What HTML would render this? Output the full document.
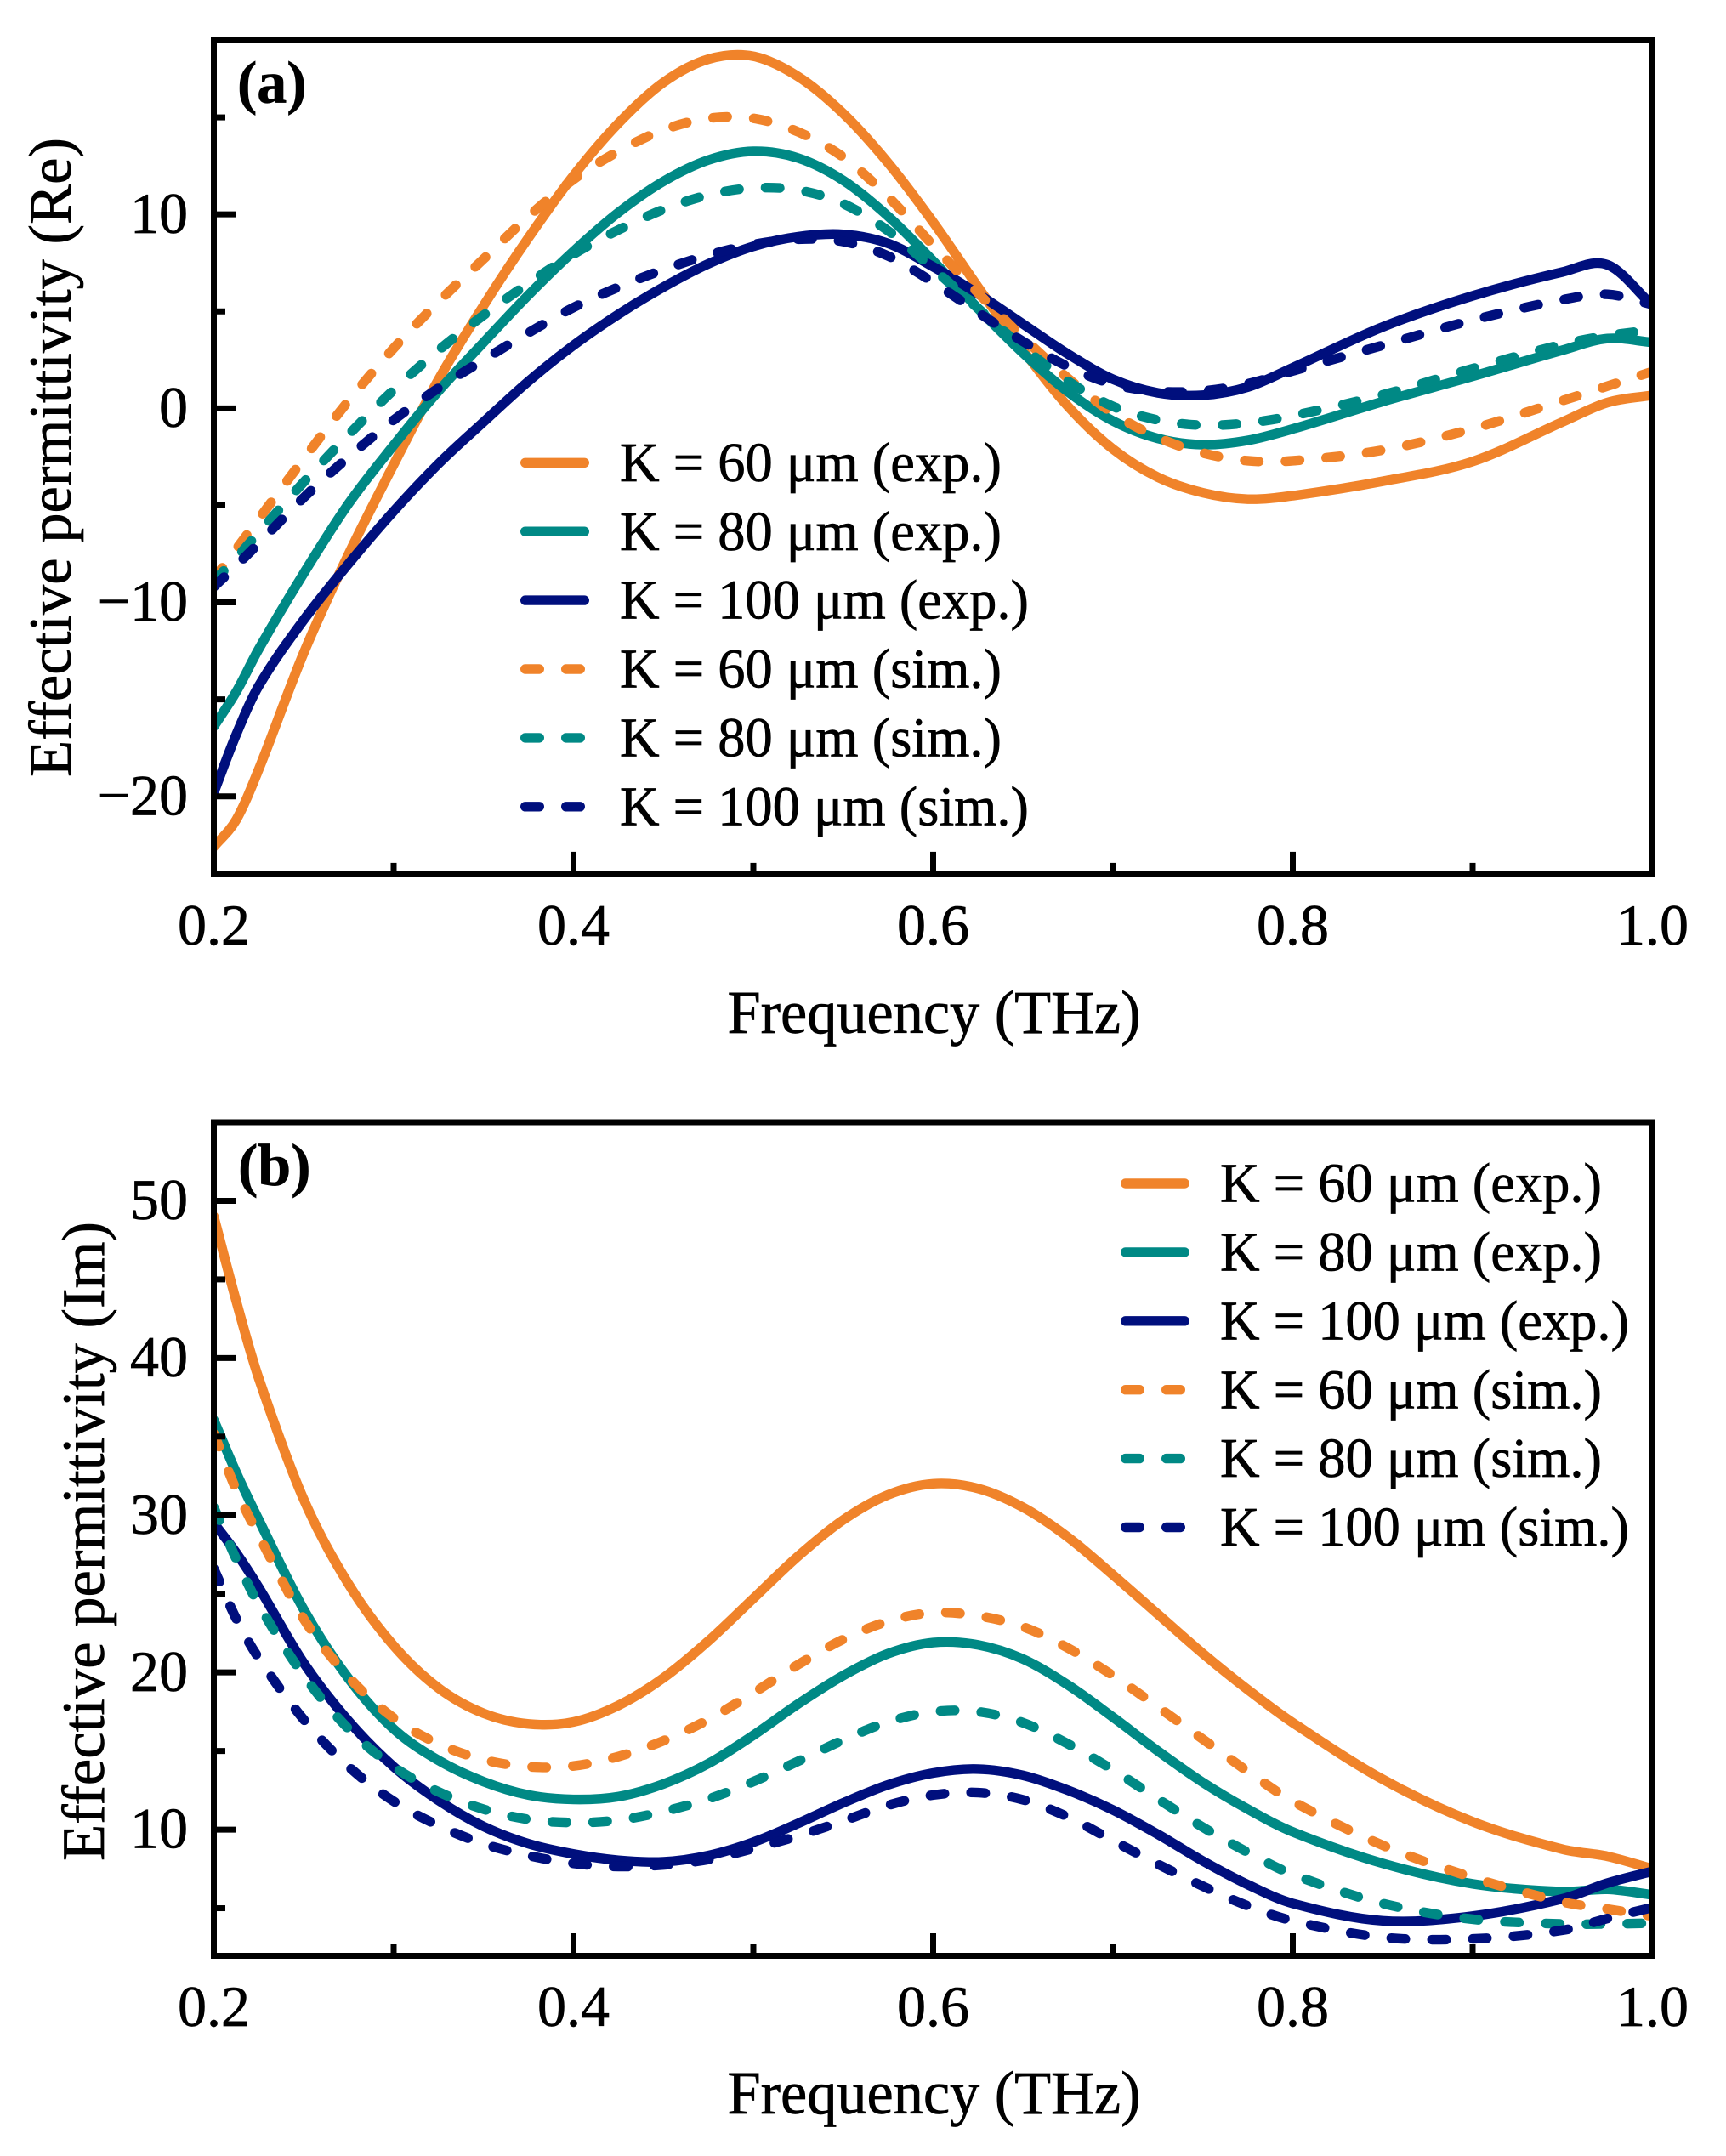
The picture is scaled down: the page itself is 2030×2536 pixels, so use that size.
<!DOCTYPE html>
<html lang="en">
<head>
<meta charset="utf-8">
<title>Effective permittivity vs frequency</title>
<style>
html,body{margin:0;padding:0;background:#fff;}
svg{display:block;}
text{font-family:"Liberation Serif","Times New Roman",serif;fill:#000;stroke:#000;stroke-width:0.7px;}
</style>
</head>
<body>
<svg id="figure" xmlns="http://www.w3.org/2000/svg" width="2030" height="2536" viewBox="0 0 2030 2536">
<rect x="0" y="0" width="2030" height="2536" fill="#ffffff"/>
<defs>
<clipPath id="clip-a"><rect x="251.5" y="47" width="1692" height="981.4"/></clipPath>
<clipPath id="clip-b"><rect x="251.5" y="1320" width="1692" height="980.5"/></clipPath>
</defs>
</svg>
<script>
const frequency = [0.2,0.2125,0.225,0.25,0.275,0.3,0.325,0.35,0.375,0.4,0.425,0.45,0.475,0.5,0.525,0.55,0.575,0.6,0.625,0.65,0.675,0.7,0.725,0.75,0.775,0.8,0.85,0.9,0.95,0.975,1.0];

const reExp60 = [-22.6,-21.2,-18.6,-12.6,-7.5,-2.9,1.5,5.3,8.8,12.0,14.7,16.8,18.0,18.15,17.1,15.2,12.65,9.6,6.25,3.0,0.1,-2.1,-3.55,-4.35,-4.68,-4.5,-3.76,-2.74,-0.7,0.3,0.68];
const reExp80 = [-16.4,-14.6,-12.4,-8.5,-4.9,-1.9,0.9,3.4,5.85,8.1,10.1,11.7,12.8,13.25,12.9,11.75,9.9,7.6,5.15,2.85,0.85,-0.65,-1.55,-1.87,-1.65,-1.06,0.35,1.65,3.0,3.6,3.4];
const reExp100 = [-19.8,-16.8,-14.3,-10.9,-8.0,-5.3,-2.85,-0.7,1.4,3.25,4.85,6.25,7.45,8.35,8.85,8.97,8.5,7.3,5.9,4.35,2.8,1.5,0.8,0.68,1.1,2.1,4.2,5.8,7.03,7.4,5.3];
const reSim60 = [-8.8,-7.25,-5.7,-2.6,0.4,3.1,5.5,7.7,9.9,11.8,13.25,14.35,14.95,14.95,14.25,12.95,10.9,8.4,5.95,3.65,1.55,-0.25,-1.5,-2.3,-2.7,-2.7,-2.15,-1.05,0.4,1.15,1.9];
const reSim80 = [-8.9,-7.7,-6.4,-3.8,-1.35,0.95,3.0,4.8,6.45,7.95,9.2,10.25,11.0,11.36,11.25,10.55,9.15,7.2,5.15,3.15,1.4,0.1,-0.6,-0.87,-0.75,-0.38,0.7,2.05,3.3,3.75,4.04];
const reSim100 = [-9.2,-8.1,-6.95,-4.6,-2.5,-0.6,1.05,2.5,3.9,5.2,6.25,7.15,7.9,8.45,8.72,8.6,7.85,6.5,4.95,3.45,2.15,1.25,0.88,0.9,1.27,1.93,3.25,4.55,5.6,5.88,5.35];

const imExp60 = [49.0,43.6,38.7,31.0,25.6,21.7,19.0,17.4,16.72,16.85,17.9,19.65,22.0,24.7,27.4,29.7,31.3,32.0,31.7,30.5,28.6,26.2,23.7,21.2,18.9,16.8,13.2,10.5,8.75,8.3,7.5];
const imExp80 = [36.05,32.7,29.7,24.0,19.6,16.4,14.4,13.05,12.2,11.92,12.1,12.9,14.2,16.0,18.0,19.8,21.2,21.9,21.75,20.85,19.2,17.15,15.0,13.0,11.3,9.85,7.85,6.55,6.05,6.2,5.85];
const imExp100 = [29.5,27.6,25.4,20.6,16.9,14.0,11.85,10.2,9.1,8.45,8.05,7.95,8.35,9.2,10.4,11.7,12.85,13.6,13.85,13.45,12.5,11.25,9.7,8.0,6.5,5.3,4.2,4.5,5.6,6.6,7.35];
const imSim60 = [35.2,31.6,28.7,23.4,19.7,17.1,15.45,14.45,14.0,14.05,14.65,15.65,17.0,18.7,20.5,22.1,23.25,23.8,23.6,22.9,21.55,19.8,17.8,15.75,13.7,11.8,9.0,6.95,5.4,4.95,4.5];
const imSim80 = [30.5,27.2,24.3,19.8,16.4,14.0,12.4,11.3,10.65,10.45,10.6,11.15,11.95,13.05,14.35,15.7,16.85,17.5,17.5,16.8,15.45,13.8,11.95,10.15,8.55,7.15,5.3,4.3,4.0,4.0,4.05];
const imSim100 = [26.6,23.4,20.9,17.0,14.0,11.8,10.25,9.1,8.35,7.85,7.65,7.75,8.1,8.8,9.6,10.55,11.55,12.2,12.35,11.9,10.8,9.3,7.8,6.4,5.15,4.2,3.15,3.05,3.6,4.35,5.05];

const xMajorTicks = [0.2,0.4,0.6,0.8,1.0];
const xMinorTicks = [0.3,0.5,0.7,0.9];
const xTickLabels = ['0.2','0.4','0.6','0.8','1.0'];
const reMajorTicks = [-20,-10,0,10];
const reMinorTicks = [-15,-5,5,15];
const reTickLabels = ['\u221220','\u221210','0','10'];
const imMajorTicks = [10,20,30,40,50];
const imMinorTicks = [5,15,25,35,45];
const imTickLabels = ['10','20','30','40','50'];
const legendLabels = ['K = 60 \u03bcm (exp.)','K = 80 \u03bcm (exp.)','K = 100 \u03bcm (exp.)','K = 60 \u03bcm (sim.)','K = 80 \u03bcm (sim.)','K = 100 \u03bcm (sim.)'];
const seriesNames = ['k60-exp','k80-exp','k100-exp','k60-sim','k80-sim','k100-sim'];

const ORANGE = '#F0832A', TEAL = '#008985', NAVY = '#000F7D';
const seriesColors = [ORANGE,TEAL,NAVY,ORANGE,TEAL,NAVY];
const LINE_W = 11.4, DASH = '16.6 31.4', SPINE_W = 7;
const NS = 'http://www.w3.org/2000/svg';
const root = document.getElementById('figure');

function xScale(f){ return 251.5 + (f - 0.2) * 2115; }
function yScaleRe(v){ return 1028 - (v + 24) * (981.2 / 43); }
function yScaleIm(v){ return 2300 - (v - 2) * (980 / 53); }

function smoothPath(xs, ys, fy){
  const n = xs.length, px = xs.map(xScale), py = ys.map(fy), m = [];
  for (let i = 0; i < n; i++){
    const a = Math.max(0, i - 1), b = Math.min(n - 1, i + 1);
    m.push((py[b] - py[a]) / (px[b] - px[a]));
  }
  let d = 'M' + px[0].toFixed(2) + ' ' + py[0].toFixed(2);
  for (let i = 0; i < n - 1; i++){
    const h = (px[i + 1] - px[i]) / 3;
    d += 'C' + (px[i] + h).toFixed(2) + ' ' + (py[i] + m[i] * h).toFixed(2) + ' ' +
         (px[i + 1] - h).toFixed(2) + ' ' + (py[i + 1] - m[i + 1] * h).toFixed(2) + ' ' +
         px[i + 1].toFixed(2) + ' ' + py[i + 1].toFixed(2);
  }
  return d;
}

function addText(parent, name, str, x, y, size, anchor, weight, transform, len){
  const el = document.createElementNS(NS, 'text');
  
  
  el.setAttribute('x', x);
  el.setAttribute('y', y);
  el.setAttribute('font-size', size);
  el.setAttribute('text-anchor', anchor);
  if (weight) el.setAttribute('font-weight', weight);
  if (transform) el.setAttribute('transform', transform);
  if (len){ el.setAttribute('textLength', len); el.setAttribute('lengthAdjust', 'spacingAndGlyphs'); }
  el.textContent = str;
  parent.appendChild(el);
  return el;
}

function addLine(parent, name, x1, y1, x2, y2, w){
  const el = document.createElementNS(NS, 'line');
  
  
  el.setAttribute('x1', x1);
  el.setAttribute('y1', y1);
  el.setAttribute('x2', x2);
  el.setAttribute('y2', y2);
  el.setAttribute('stroke', '#000');
  el.setAttribute('stroke-width', w);
  parent.appendChild(el);
  return el;
}

function drawPanel(cfg){
  const g = document.createElementNS(NS, 'g');
  
  
  root.appendChild(g);

  const lines = document.createElementNS(NS, 'g');
  
  
  lines.setAttribute('clip-path', 'url(#' + cfg.clip + ')');
  g.appendChild(lines);
  cfg.series.forEach(function(vals, i){
    const p = document.createElementNS(NS, 'path');
    
    
    p.setAttribute('d', smoothPath(frequency, vals, cfg.fy));
    p.setAttribute('fill', 'none');
    p.setAttribute('stroke', seriesColors[i]);
    p.setAttribute('stroke-width', LINE_W);
    p.setAttribute('stroke-linecap', 'round');
    p.setAttribute('stroke-linejoin', 'round');
    if (i > 2) p.setAttribute('stroke-dasharray', DASH);
    lines.appendChild(p);
  });

  xMajorTicks.forEach(function(f, i){
    addLine(g, cfg.prefix + '-x-major-tick', xScale(f), cfg.bottom, xScale(f), cfg.bottom - 26.5, SPINE_W);
    addText(g, cfg.prefix + '-x-tick-label', xTickLabels[i], xScale(f), cfg.xTickBase, 68, 'middle');
  });
  xMinorTicks.forEach(function(f){
    addLine(g, cfg.prefix + '-x-minor-tick', xScale(f), cfg.bottom, xScale(f), cfg.bottom - 13.5, SPINE_W);
  });
  cfg.yMajor.forEach(function(v, i){
    addLine(g, cfg.prefix + '-y-major-tick', 251.5, cfg.fy(v), 278, cfg.fy(v), SPINE_W);
    addText(g, cfg.prefix + '-y-tick-label', cfg.yLabels[i], 221, cfg.fy(v) + 21.6, 68, 'end');
  });
  cfg.yMinor.forEach(function(v){
    addLine(g, cfg.prefix + '-y-minor-tick', 251.5, cfg.fy(v), 265, cfg.fy(v), SPINE_W);
  });

  const frame = document.createElementNS(NS, 'rect');
  
  
  frame.setAttribute('x', 251.5);
  frame.setAttribute('y', cfg.top);
  frame.setAttribute('width', 1692);
  frame.setAttribute('height', cfg.bottom - cfg.top);
  frame.setAttribute('fill', 'none');
  frame.setAttribute('stroke', '#000');
  frame.setAttribute('stroke-width', SPINE_W);
  g.appendChild(frame);

  addText(g, cfg.prefix + '-x-axis-title', 'Frequency (THz)', 1098.5, cfg.xTitleBase, 72, 'middle', null, null, 486);
  addText(g, cfg.prefix + '-y-axis-title', cfg.yTitle, cfg.yTitleX, cfg.yTitleMid, 71, 'middle', null,
          'rotate(-90 ' + cfg.yTitleX + ' ' + cfg.yTitleMid + ')', 752);
  addText(g, cfg.prefix + '-panel-label', cfg.tag, cfg.tagX, cfg.tagBase, 70, 'start', 'bold');

  const lg = document.createElementNS(NS, 'g');
  
  
  g.appendChild(lg);
  legendLabels.forEach(function(label, i){
    const y = cfg.legendTop + i * 80.9;
    const h = document.createElementNS(NS, 'line');
    
    
    h.setAttribute('x1', cfg.legendX + 5.7);
    h.setAttribute('x2', cfg.legendX + 75.3);
    h.setAttribute('y1', y);
    h.setAttribute('y2', y);
    h.setAttribute('stroke', seriesColors[i]);
    h.setAttribute('stroke-width', LINE_W);
    h.setAttribute('stroke-linecap', 'round');
    if (i > 2) h.setAttribute('stroke-dasharray', DASH);
    lg.appendChild(h);
    const wide = label.indexOf('100') >= 0;
    addText(lg, cfg.prefix + '-legend-label', label, cfg.legendX + 117, y + 21.6, 66, 'start', null, null, wide ? 481 : 449);
  });
}

drawPanel({
  name:'panel-a-real-part', prefix:'re', clip:'clip-a', fy:yScaleRe, top:47, bottom:1028.4,
  series:[reExp60,reExp80,reExp100,reSim60,reSim80,reSim100],
  yMajor:reMajorTicks, yMinor:reMinorTicks, yLabels:reTickLabels,
  xTickBase:1111, xTitleBase:1215, yTitle:'Effective permittivity (Re)', yTitleX:83, yTitleMid:538,
  tag:'(a)', tagX:279, tagBase:120.5, legendX:612, legendTop:544.3
});
drawPanel({
  name:'panel-b-imaginary-part', prefix:'im', clip:'clip-b', fy:yScaleIm, top:1320, bottom:2300.5,
  series:[imExp60,imExp80,imExp100,imSim60,imSim80,imSim100],
  yMajor:imMajorTicks, yMinor:imMinorTicks, yLabels:imTickLabels,
  xTickBase:2383, xTitleBase:2486, yTitle:'Effective permittivity (Im)', yTitleX:122, yTitleMid:1813,
  tag:'(b)', tagX:280, tagBase:1394, legendX:1318, legendTop:1392
});
</script>
</body>
</html>
